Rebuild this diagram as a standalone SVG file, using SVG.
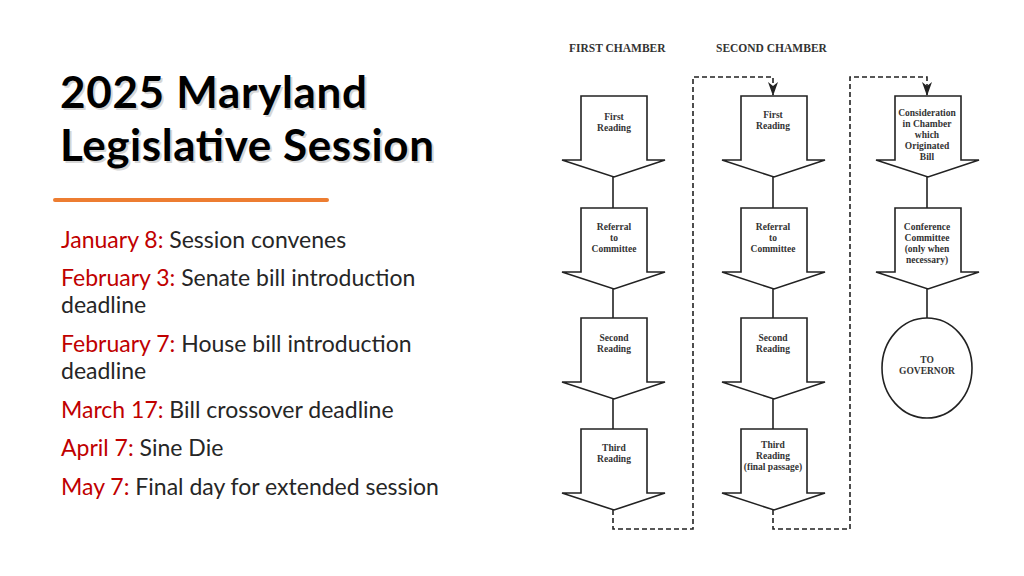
<svg xmlns="http://www.w3.org/2000/svg" width="1024" height="576" viewBox="0 0 1024 576">
<style>
.t{font-family:Lato,"Open Sans",sans-serif;font-weight:bold;font-size:44px;fill:#000}
.b{font-family:Lato,"Open Sans",sans-serif;font-size:23px;fill:#262626}
.r{fill:#C00000}
.h{font-family:"Liberation Serif",serif;font-weight:bold;font-size:11.5px;fill:#333}
.n{font-family:"Liberation Serif",serif;font-weight:bold;font-size:9.5px;fill:#333;text-anchor:middle}
.s{fill:#fff;stroke:#222;stroke-width:1.6;stroke-linejoin:miter}
.l{stroke:#222;stroke-width:1.6;fill:none}
.d{stroke:#222;stroke-width:1.6;fill:none;stroke-dasharray:5,3}
</style>
<defs>
<marker id="a" markerWidth="10" markerHeight="14" refX="5" refY="13" orient="0" markerUnits="userSpaceOnUse" viewBox="0 0 10 14"><path d="M0,0 L5,4 L10,0 L5,14 Z" fill="#222"/></marker>
<path id="arr" d="M-32,0 H34 V64 H52 L1,81 L-51,64 H-32 Z"/>
</defs>
<rect width="1024" height="576" fill="#fff"/>
<g id="title">
<text class="t" x="62" y="110" textLength="307" style="fill:#bbb" opacity="0.6">2025 Maryland</text>
<text class="t" x="62" y="163" textLength="374" style="fill:#bbb" opacity="0.6">Legislative Session</text>
<text class="t" x="60" y="108" textLength="307">2025 Maryland</text>
<text class="t" x="60" y="161" textLength="374">Legislative Session</text>
<rect x="53" y="198" width="276" height="4" rx="2" fill="#ED7D31"/>
</g>
<g id="dates">
<text class="b" x="61" y="248"><tspan class="r">January 8:</tspan> Session convenes</text>
<text class="b" x="61" y="286"><tspan class="r">February 3:</tspan> Senate bill introduction</text>
<text class="b" x="61" y="313">deadline</text>
<text class="b" x="61" y="352"><tspan class="r">February 7:</tspan> House bill introduction</text>
<text class="b" x="61" y="379">deadline</text>
<text class="b" x="61" y="418"><tspan class="r">March 17:</tspan> Bill crossover deadline</text>
<text class="b" x="61" y="456"><tspan class="r">April 7:</tspan> Sine Die</text>
<text class="b" x="61" y="495"><tspan class="r">May 7:</tspan> Final day for extended session</text>
</g>
<text class="h" x="569" y="52">FIRST CHAMBER</text>
<text class="h" x="716" y="52">SECOND CHAMBER</text>
<g id="connectors">
<path class="l" d="M613,177 V208 M613,289 V318 M613,399 V429 M773,177 V208 M773,289 V318 M773,399 V429 M927,177 V208 M927,289 V318"/>
<path class="d" d="M613,510 V529 H693 V77 H773 V95" marker-end="url(#a)"/>
<path class="d" d="M773,510 V529 H850 V77 H927 V95" marker-end="url(#a)"/>
</g>
<g id="c1r1"><use href="#arr" class="s" x="613" y="96"/><text class="n" x="614" y="120">First</text><text class="n" x="614" y="131">Reading</text></g>
<g id="c1r2"><use href="#arr" class="s" x="613" y="208"/><text class="n" x="614" y="230">Referral</text><text class="n" x="614" y="241">to</text><text class="n" x="614" y="252">Committee</text></g>
<g id="c1r3"><use href="#arr" class="s" x="613" y="318"/><text class="n" x="614" y="341">Second</text><text class="n" x="614" y="352">Reading</text></g>
<g id="c1r4"><use href="#arr" class="s" x="613" y="429"/><text class="n" x="614" y="451">Third</text><text class="n" x="614" y="462">Reading</text></g>
<g id="c2r1"><use href="#arr" class="s" x="773" y="96"/><text class="n" x="773" y="118">First</text><text class="n" x="773" y="129">Reading</text></g>
<g id="c2r2"><use href="#arr" class="s" x="773" y="208"/><text class="n" x="773" y="230">Referral</text><text class="n" x="773" y="241">to</text><text class="n" x="773" y="252">Committee</text></g>
<g id="c2r3"><use href="#arr" class="s" x="773" y="318"/><text class="n" x="773" y="341">Second</text><text class="n" x="773" y="352">Reading</text></g>
<g id="c2r4"><use href="#arr" class="s" x="773" y="429"/><text class="n" x="773" y="448">Third</text><text class="n" x="773" y="459">Reading</text><text class="n" x="773" y="470">(final passage)</text></g>
<g id="c3r1"><use href="#arr" class="s" x="927" y="96"/><text class="n" x="927" y="116">Consideration</text><text class="n" x="927" y="127">in Chamber</text><text class="n" x="927" y="138">which</text><text class="n" x="927" y="149">Originated</text><text class="n" x="927" y="160">Bill</text></g>
<g id="c3r2"><use href="#arr" class="s" x="927" y="208"/><text class="n" x="927" y="230">Conference</text><text class="n" x="927" y="241">Committee</text><text class="n" x="927" y="252">(only when</text><text class="n" x="927" y="263">necessary)</text></g>
<g id="gov"><ellipse class="s" cx="927" cy="368" rx="45" ry="50"/><text class="n" x="927" y="363">TO</text><text class="n" x="927" y="374">GOVERNOR</text></g>
</svg>
